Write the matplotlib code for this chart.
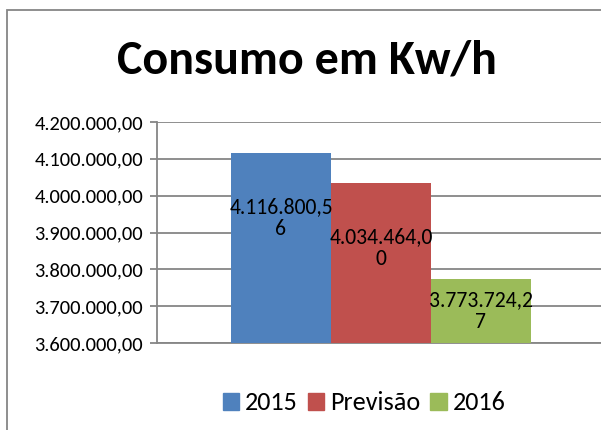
import matplotlib
matplotlib.use("Agg")
import matplotlib.pyplot as plt
from matplotlib.patches import Rectangle
from matplotlib.ticker import FuncFormatter, MultipleLocator

plt.rcParams['font.family'] = ['Carlito', 'DejaVu Sans']

title = "Consumo em Kw/h"
series = ["2015", "Previsão", "2016"]
values = [4116800.56, 4034464.00, 3773724.27]
colors = ["#4F81BD", "#C0504D", "#9BBB59"]
ymin, ymax, ystep = 3600000, 4200000, 100000


def br(v, nd=2):
    s = f"{v:,.{nd}f}"
    return s.replace(",", "X").replace(".", ",").replace("X", ".")


W, H = 601, 430
fig = plt.figure(figsize=(W / 100, H / 100), dpi=100)

# outer chart border
fig.patches.append(Rectangle((7 / W, -0.1), 1.2, (H - 10) / H + 0.1, transform=fig.transFigure,
                             fill=False, edgecolor="#868686", linewidth=1.3))

ax = fig.add_axes([157 / W, 1 - 343 / H, (605 - 157) / W, (343 - 122) / H])
xs = [-1, 0, 1]
ax.bar(xs, [v - ymin for v in values], bottom=ymin, width=1.0, color=colors, zorder=3)
ax.set_xlim(-2.24, 2.24)
ax.set_ylim(ymin, ymax)
ax.yaxis.set_major_locator(MultipleLocator(ystep))
ax.yaxis.set_major_formatter(FuncFormatter(lambda v, p: br(v)))
ax.grid(axis="y", color="#868686", linewidth=1.3, zorder=0)
ax.set_xticks([])
for s in ["top", "right"]:
    ax.spines[s].set_visible(False)
for s in ["left", "bottom"]:
    ax.spines[s].set_color("#868686")
    ax.spines[s].set_linewidth(1.3)
ax.tick_params(axis="y", length=5, width=1.3, color="#868686", labelsize=14.8, pad=5)

for x, v in zip(xs, values):
    s = br(v)
    lab = s[:-1] + "\n" + s[-1]
    y = max(v - 177000, (v + ymin) / 2)
    ax.text(x, y, lab, ha="center", va="center", fontsize=15.6, linespacing=1.15, zorder=4)

fig.text(307 / W, 1 - 60 / H, title, ha="center", va="center", fontsize=34.5, fontweight="bold")

handles = [Rectangle((0, 0), 1, 1, color=c) for c in colors]
fig.legend(handles, series, loc="center", bbox_to_anchor=(364 / W, 1 - 403 / H), ncol=3,
           frameon=False, fontsize=18.8, handlelength=0.62, handleheight=0.62,
           handletextpad=0.23, columnspacing=0.39)

fig.savefig("out.png", dpi=100)
